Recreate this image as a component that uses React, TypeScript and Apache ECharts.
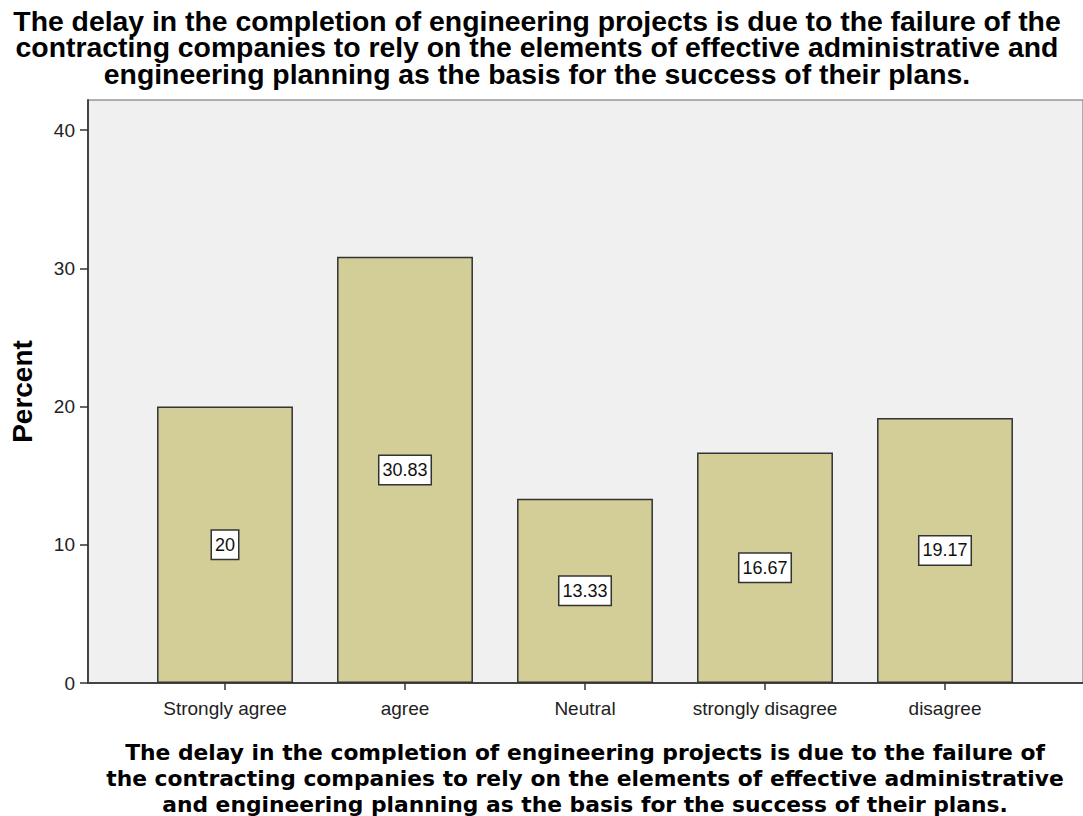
import React, { useEffect, useRef } from "react";
import * as echarts from "echarts";

const categories = ["Strongly agree", "agree", "Neutral", "strongly disagree", "disagree"];
const percents = [20, 30.83, 13.33, 16.67, 19.17];
const yTicks = [0, 10, 20, 30, 40];
const titleText =
  "The delay in the completion of engineering projects is due to the failure of the\ncontracting companies to rely on the elements of effective administrative and\nengineering planning as the basis for the success of their plans.";
const xTitleText =
  "The delay in the completion of engineering projects is due to the failure of\nthe contracting companies to rely on the elements of effective administrative\nand engineering planning as the basis for the success of their plans.";

const Y_MAX = 42.17;

export default function App() {
  const ref = useRef<HTMLDivElement>(null);
  useEffect(() => {
    document.body.style.margin = "0";
    const chart = echarts.init(ref.current!, null, { renderer: "svg" });
    chart.setOption({
      animation: false,
      backgroundColor: "#ffffff",
      graphic: [
        {
          type: "text",
          x: 537,
          y: 8,
          scaleX: 1.013,
          scaleY: 0.955,
          style: {
            text: titleText,
            align: "center",
            verticalAlign: "top",
            fontFamily: "Liberation Sans, Arial, sans-serif",
            fontWeight: "bold",
            fontSize: 28,
            lineHeight: 28,
            fill: "#000",
          },
        },
      ],
      title: [
        {
          text: xTitleText,
          left: 580,
          top: 734,
          textAlign: "center",
          textStyle: {
            fontFamily: "DejaVu Sans, sans-serif",
            fontWeight: "bold",
            fontSize: 21.8,
            lineHeight: 26,
            color: "#000",
          },
        },
      ],
      grid: [
        {
          left: 86,
          top: 100,
          width: 997,
          height: 583,
          show: true,
          backgroundColor: "#f0f0f0",
          borderColor: "#666",
          borderWidth: 1,
        },
        {
          left: 135,
          top: 100,
          width: 900,
          height: 583,
        },
      ],
      xAxis: [
        {
          gridIndex: 0,
          type: "value",
          min: 0,
          max: 1,
          axisLine: { show: true, lineStyle: { color: "#444", width: 2 } },
          axisTick: { show: false },
          axisLabel: { show: false },
          splitLine: { show: false },
        },
        {
          gridIndex: 1,
          type: "category",
          data: categories,
          axisLine: { show: false },
          axisTick: { show: true, alignWithLabel: true, interval: 0, length: 7, lineStyle: { color: "#333", width: 1.5 } },
          axisLabel: {
            interval: 0,
            hideOverlap: false,
            fontFamily: "Liberation Sans, Arial, sans-serif",
            fontSize: 19,
            color: "#222",
            margin: 16,
          },
        },
      ],
      yAxis: [
        {
          gridIndex: 0,
          type: "value",
          min: 0,
          max: Y_MAX,
          name: "Percent",
          nameLocation: "middle",
          nameRotate: 90,
          nameGap: 52,
          nameTextStyle: {
            fontFamily: "Liberation Sans, Arial, sans-serif",
            fontWeight: "bold",
            fontSize: 28,
            color: "#000",
          },
          axisLine: { show: true, lineStyle: { color: "#444", width: 2 } },
          axisTick: { show: true, length: 8, customValues: yTicks, lineStyle: { color: "#333", width: 1.5 } },
          axisLabel: {
            customValues: yTicks,
            fontFamily: "Liberation Sans, Arial, sans-serif",
            fontSize: 19,
            color: "#222",
            margin: 13,
          },
          splitLine: { show: false },
        },
        {
          gridIndex: 1,
          type: "value",
          min: 0,
          max: Y_MAX,
          show: false,
          splitLine: { show: false },
        },
      ],
      series: [
        {
          type: "bar",
          xAxisIndex: 1,
          yAxisIndex: 1,
          data: percents,
          barWidth: "75.5%",
          itemStyle: { color: "#d3ce97", borderColor: "#333", borderWidth: 1.5 },
          label: {
            show: true,
            position: "inside",
            fontFamily: "Liberation Sans, Arial, sans-serif",
            fontSize: 18,
            color: "#111",
            backgroundColor: "#fff",
            borderColor: "#333",
            borderWidth: 1.5,
            padding: [6, 3, 4, 3],
          },
        },
      ],
    });
    return () => chart.dispose();
  }, []);
  return <div ref={ref} style={{ width: 1083, height: 816 }} />;
}
